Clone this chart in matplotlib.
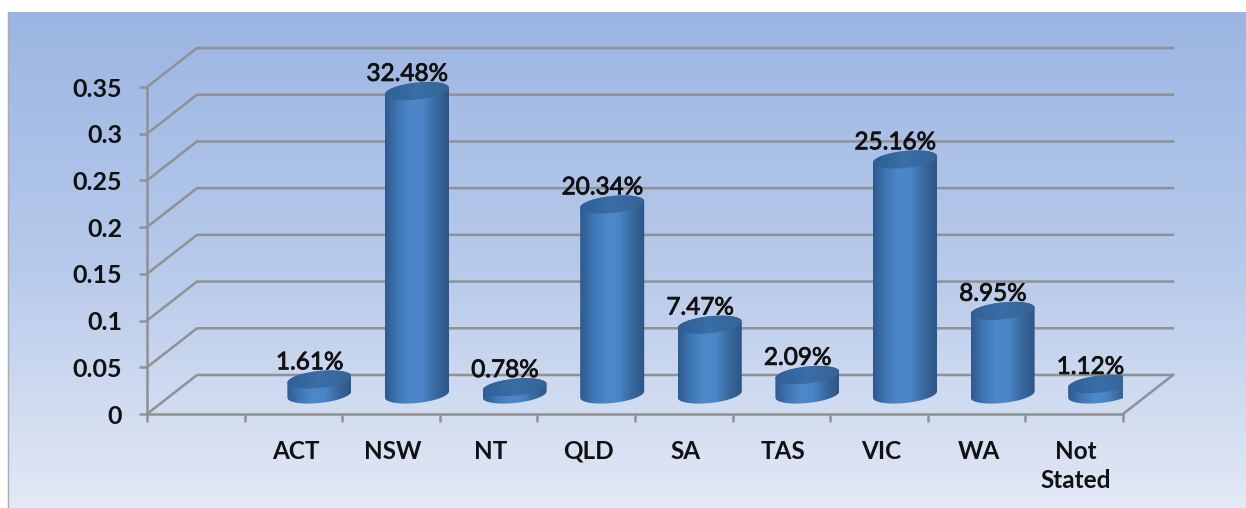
import numpy as np
import matplotlib
matplotlib.use("Agg")
import matplotlib.pyplot as plt
import matplotlib.patheffects as pe
from matplotlib.path import Path
from matplotlib.patches import PathPatch
from matplotlib.colors import LinearSegmentedColormap
from matplotlib.transforms import ScaledTranslation

plt.rcParams["font.family"] = ["Lato", "DejaVu Sans"]

categories = ["ACT", "NSW", "NT", "QLD", "SA", "TAS", "VIC", "WA", "Not\nStated"]
values = [0.0161, 0.3248, 0.0078, 0.2034, 0.0747, 0.0209, 0.2516, 0.0895, 0.0112]
labels = ["1.61%", "32.48%", "0.78%", "20.34%", "7.47%", "2.09%", "25.16%", "8.95%", "1.12%"]
y_ticks = [0, 0.05, 0.1, 0.15, 0.2, 0.25, 0.3, 0.35]
y_tick_labels = ["0", "0.05", "0.1", "0.15", "0.2", "0.25", "0.3", "0.35"]

W, H = 1246, 508
GREY = "#8f9194"

# front plane of the fake 3d box, in pixels of the image
LEFT, RIGHT, BOTTOM, TOP = 147, 1123, 414, 87
# how far the back wall is shifted from the front plane
DEPTH_X, DEPTH_Y = 50, 39
Y_MAX = 0.35
# room above the axis so the images of the bars are not cut by the axes box
Y_ROOM = 0.07

fig = plt.figure(figsize=(W / 100, H / 100), dpi=100)

bg = fig.add_axes([0, 0, 1, 1])
bg.set_axis_off()
shade = LinearSegmentedColormap.from_list("bg", ["#9bb5e3", "#b6c9ea", "#e3e9f5"])
bg.imshow(np.linspace(0, 1, 256).reshape(-1, 1), cmap=shade, aspect="auto",
          extent=[8, W, 0, H - 12])
bg.plot([8, 8], [H - 12, 0], color="#a9adb5", lw=1)
bg.set_xlim(0, W)
bg.set_ylim(0, H)

# data units per pixel
x_end = len(categories) + 1
ux = x_end / (RIGHT - LEFT)
uy = Y_MAX / (BOTTOM - TOP)
dx, dy = DEPTH_X * ux, DEPTH_Y * uy

ax_h = (BOTTOM - TOP) + Y_ROOM / uy
ax = fig.add_axes([LEFT / W, (H - BOTTOM) / H, (RIGHT - LEFT) / W, ax_h / H])
ax.patch.set_alpha(0)

for spine in ["top", "right"]:
    ax.spines[spine].set_visible(False)
for spine in ["left", "bottom"]:
    ax.spines[spine].set_color(GREY)
    ax.spines[spine].set_linewidth(1.8)
ax.spines["left"].set_bounds(0, Y_MAX)

for tick in y_ticks:
    ax.plot([0, dx, x_end + dx], [tick, tick + dy, tick + dy], color=GREY, lw=1.8,
            clip_on=False, zorder=1)
ax.plot([x_end, x_end + dx], [0, dy], color=GREY, lw=1.8, clip_on=False, zorder=1)

ax.set_yticks(y_ticks, y_tick_labels)
ax.set_xticks(np.arange(x_end + 1), [""] * (x_end + 1))
ax.set_xticks(np.arange(len(categories)) + 1.5, categories, minor=True)
ax.tick_params(axis="y", length=6, width=1.8, color=GREY, pad=12, labelsize=18, labelcolor="#111111")
ax.tick_params(axis="x", which="major", length=6, width=1.8, color=GREY)
ax.tick_params(axis="x", which="minor", length=0, pad=18.5, labelsize=17.5, labelcolor="#111111")
for txt in ax.get_yticklabels():
    txt.set_fontweight("bold")
nudge = ScaledTranslation(2 / 100, 0, fig.dpi_scale_trans)
for txt in ax.get_xticklabels(minor=True):
    txt.set_fontweight("bold")
    txt.set_linespacing(1.35)
    txt.set_transform(txt.get_transform() + nudge)

body_cmap = LinearSegmentedColormap.from_list(
    "body", ["#2f5a8f", "#3f77b5", "#4d88cb", "#4a85c6", "#39689f", "#2d5686"])
cap_cmap = LinearSegmentedColormap.from_list("cap", ["#2f5f96", "#3a6ea8", "#346496"])

half_w = 32 * ux
half_h = 8.5 * uy
tilt = 0.10 * uy / ux
t = np.linspace(0, 2 * np.pi, 73)


def ellipse(cx, cy):
    return (cx + half_w * np.cos(t),
            cy + half_h * np.sin(t) + tilt * half_w * np.cos(t))


def gradient(path, cmap, x0, x1, y0, y1, z):
    im = ax.imshow(np.linspace(0, 1, 128).reshape(1, -1), cmap=cmap, aspect="auto",
                   extent=[x0, x1, y0, y1], zorder=z)
    im.set_clip_path(PathPatch(path, transform=ax.transData))


for i, (value, label) in enumerate(zip(values, labels)):
    cx = i + 1.5 + dx / 2 + ux
    base = dy / 2
    top = base + value

    bx, by = ellipse(cx, base)
    tx, ty = ellipse(cx, top)
    # lower half of the base ellipse, then back over the top one
    low = t >= np.pi
    up = t <= np.pi
    outline = np.vstack([
        np.column_stack([bx[low], by[low]]),
        np.column_stack([tx[up], ty[up]]),
    ])
    gradient(Path(np.vstack([outline, outline[0]])), body_cmap,
             cx - half_w, cx + half_w, base - 2 * half_h, top + 2 * half_h, 3)
    gradient(Path(np.column_stack([tx, ty])), cap_cmap,
             cx - half_w, cx + half_w, top - 2 * half_h, top + 2 * half_h, 4)

    ax.annotate(label, (cx, top), xytext=(-7, 12), textcoords="offset points",
                ha="center", va="center", fontsize=17.5, color="#111111",
                annotation_clip=False, zorder=5,
                path_effects=[pe.withStroke(linewidth=0.6, foreground="#111111")])

ax.set_xlim(0, x_end)
ax.set_ylim(0, Y_MAX + Y_ROOM)

fig.savefig("out.png", dpi=100)
